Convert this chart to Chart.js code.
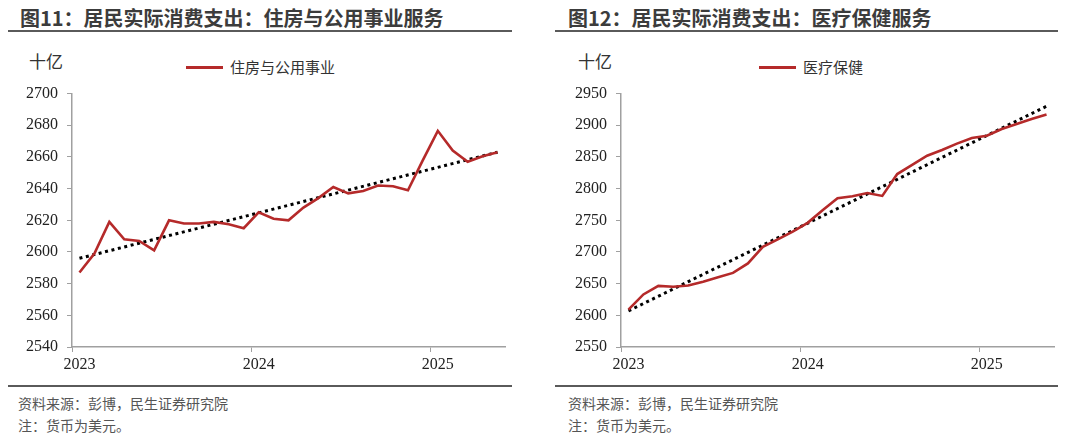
<!DOCTYPE html>
<html>
<head>
<meta charset="utf-8">
<script src="https://cdn.jsdelivr.net/npm/chart.js@4.4.1/dist/chart.umd.min.js"></script>
<style>
  body { margin: 0; width: 1080px; height: 442px; background: #fff; position: relative; overflow: hidden;
         font-family: "Noto Sans CJK SC", "Noto Sans", sans-serif; }
  .title { position: absolute; top: 3px; font-size: 20px; font-weight: bold; color: #3c3c3c; white-space: nowrap; }
  .rule { position: absolute; height: 2px; background: #5a5a5a; }
  .unit { position: absolute; top: 48px; font-size: 17px; color: #333; }
  .legend { position: absolute; top: 56px; font-size: 15px; color: #333; white-space: nowrap; }
  .legend i { display: inline-block; width: 37px; height: 3px; background: #b52a2a; vertical-align: middle; margin-right: 7px; position: relative; top: -1px; }
  .note { position: absolute; font-size: 14px; color: #555; white-space: nowrap; }
  .box { position: absolute; top: 75px; width: 540px; height: 310px; }
</style>
</head>
<body>
<div class="title" style="left:20px">图11：居民实际消费支出：住房与公用事业服务</div>
<div class="title" style="left:568px">图12：居民实际消费支出：医疗保健服务</div>
<div class="rule" style="left:8px; width:504px; top:30px"></div>
<div class="rule" style="left:555px; width:503px; top:30px"></div>
<div class="unit" style="left:29px">十亿</div>
<div class="unit" style="left:578px">十亿</div>
<div class="legend" style="left:186px"><i></i>住房与公用事业</div>
<div class="legend" style="left:759px"><i></i>医疗保健</div>
<div class="box" style="left:0"><canvas id="c1"></canvas></div>
<div class="box" style="left:540px"><canvas id="c2"></canvas></div>
<div class="rule" style="left:8px; width:504px; top:385px"></div>
<div class="rule" style="left:555px; width:503px; top:385px"></div>
<div class="note" style="left:18px; top:393px">资料来源：彭博，民生证券研究院</div>
<div class="note" style="left:18px; top:415px">注：货币为美元。</div>
<div class="note" style="left:568px; top:393px">资料来源：彭博，民生证券研究院</div>
<div class="note" style="left:568px; top:415px">注：货币为美元。</div>
<script>
const months = [
  '2023-01','2023-02','2023-03','2023-04','2023-05','2023-06','2023-07','2023-08','2023-09','2023-10','2023-11','2023-12',
  '2024-01','2024-02','2024-03','2024-04','2024-05','2024-06','2024-07','2024-08','2024-09','2024-10','2024-11','2024-12',
  '2025-01','2025-02','2025-03','2025-04','2025-05'
];

const housing = [2587, 2599, 2619, 2608, 2607, 2601, 2620, 2618, 2618, 2619, 2617.5, 2615,
                 2625, 2621, 2620, 2628, 2634, 2641, 2637, 2638.5, 2642, 2641.5, 2639,
                 2658, 2676.5, 2664, 2657, 2660.5, 2663];
const housingTrend = [2596, 2663];   // dotted trend, first and last month

const health = [2609, 2633, 2646.5, 2645, 2647, 2653, 2660, 2667, 2682, 2708, 2720, 2732,
                2746, 2766, 2785, 2788, 2793, 2788.5, 2823, 2837.5, 2852, 2861, 2871,
                2880, 2883.5, 2894, 2902, 2910, 2917];
const healthTrend = [2607, 2930];

const housingTicks = { min: 2540, max: 2700, step: 20 };
const healthTicks = { min: 2550, max: 2950, step: 50 };

const axisColor = '#a0a0a0';
const tickFont = { family: 'Liberation Serif', size: 16 };

function makeChart(id, values, trend, yt, axisW, padRight) {
  const first = months[0], last = months[months.length - 1];
  new Chart(document.getElementById(id), {
    type: 'line',
    data: {
      labels: months,
      datasets: [
        {
          data: values,
          borderColor: '#b52a2a',
          borderWidth: 2.6,
          pointRadius: 0,
          tension: 0,
        },
        {
          data: [{ x: first, y: trend[0] }, { x: last, y: trend[1] }],
          borderColor: '#000',
          borderWidth: 3,
          borderDash: [3, 3.6],
          pointRadius: 0,
        },
      ],
    },
    options: {
      responsive: true,
      maintainAspectRatio: false,
      animation: false,
      layout: { padding: { top: 8, right: padRight, left: 0, bottom: 0 } },
      plugins: { legend: { display: false }, tooltip: { enabled: false } },
      scales: {
        x: {
          type: 'category',
          offset: true,
          afterFit: s => { s.height = 38; },
          grid: {
            offset: true,
            drawOnChartArea: false,
            tickLength: 5,
            color: ctx => (ctx.index % 12 === 0 ? axisColor : 'rgba(0,0,0,0)'),
          },
          border: { color: axisColor, width: 1.5 },
          ticks: {
            autoSkip: false,
            maxRotation: 0,
            padding: 3,
            color: '#222',
            font: tickFont,
            callback: (v, i) => (i % 12 === 0 ? months[i].slice(0, 4) : ''),
          },
        },
        y: {
          min: yt.min,
          max: yt.max,
          afterFit: s => { s.width = axisW; },
          grid: { drawOnChartArea: false, tickLength: 5, color: axisColor },
          border: { color: axisColor, width: 1.5 },
          ticks: { stepSize: yt.step, padding: 9, color: '#222', font: tickFont, callback: v => String(v) },
        },
      },
    },
  });
}

makeChart('c1', housing, housingTrend, housingTicks, 72, 35);
makeChart('c2', health, healthTrend, healthTicks, 81, 26);
</script>
</body>
</html>
